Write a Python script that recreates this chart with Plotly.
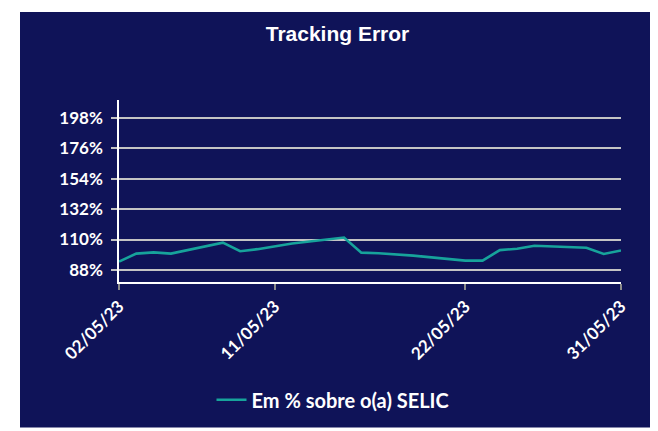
import plotly.graph_objects as go

dates = ["2023-05-02", "2023-05-03", "2023-05-04", "2023-05-05", "2023-05-08",
         "2023-05-09", "2023-05-10", "2023-05-11", "2023-05-12", "2023-05-15",
         "2023-05-16", "2023-05-17", "2023-05-18", "2023-05-19", "2023-05-22",
         "2023-05-23", "2023-05-24", "2023-05-25", "2023-05-26", "2023-05-29",
         "2023-05-30", "2023-05-31"]
values = [94.0, 99.8, 100.7, 99.8, 107.7,
          101.5, 103.0, 105.3, 107.1, 111.4,
          100.5, 100.0, 99.2, 98.3, 94.7,
          94.7, 102.3, 103.3, 105.5, 104.0,
          99.5, 102.1]
series_name = "Em % sobre o(a) SELIC"
x_tick_vals = ["2023-05-02", "2023-05-11", "2023-05-22", "2023-05-31"]
x_tick_text = ["02/05/23", "11/05/23", "22/05/23", "31/05/23"]
y_tick_vals = [88, 110, 132, 154, 176, 198]
y_tick_text = ["88%", "110%", "132%", "154%", "176%", "198%"]

NAVY = "#0f1358"
TEAL = "#17a39b"
OFF = 8  # page body margin
W, H = 658 - OFF, 431 - OFF
L, T = 119 - OFF, 100 - OFF
R = W - (621 - OFF)
B = H - (284 - OFF)
pw, ph = W - L - R, H - T - B

def px_x(p):
    return (p - OFF - L) / pw

def px_y(p):
    return (H - B - (p - OFF)) / ph

fig = go.Figure()
fig.add_trace(go.Scatter(
    x=dates, y=values, mode="lines", name=series_name,
    line=dict(color=TEAL, width=2.6),
))

tickfont = dict(family="Lato", size=17, color="white", weight="bold")

fig.update_layout(
    width=W, height=H,
    margin=dict(l=L, r=R, t=T, b=B),
    paper_bgcolor="white",
    plot_bgcolor=NAVY,
    title=dict(text="Tracking Error", x=(337.5 - OFF) / W, xref="container", xanchor="center",
               y=1 - (34 - OFF) / H, yref="container", yanchor="middle",
               font=dict(family="Liberation Sans", size=21, color="white", weight="bold")),
    showlegend=True,
    legend=dict(orientation="h", x=px_x(333), xanchor="center", y=px_y(403), yanchor="middle",
                font=dict(family="Lato", size=20, color="white", weight="bold"),
                bgcolor="rgba(0,0,0,0)"),
    shapes=[dict(type="rect", xref="paper", yref="paper",
                 x0=px_x(20), x1=px_x(655), y0=px_y(431), y1=px_y(11),
                 fillcolor=NAVY, line=dict(width=0), layer="below")],
    xaxis=dict(type="date", range=["2023-05-02", "2023-05-31"],
               tickvals=x_tick_vals, ticktext=x_tick_text, tickangle=-45,
               showgrid=False, showline=True, linecolor="white", linewidth=1.5,
               ticks="outside", ticklen=6, tickcolor="#8a8a8a", tickwidth=1.5,
               tickfont=tickfont, zeroline=False),
    yaxis=dict(range=[79.2, 211.1], tickvals=y_tick_vals, ticktext=y_tick_text,
               showgrid=True, gridcolor="#c4c4c4", gridwidth=1.5,
               showline=True, linecolor="white", linewidth=1.5,
               ticks="outside", ticklen=6, tickcolor="#c4c4c4", tickwidth=1.5,
               ticklabelstandoff=5,
               tickfont=tickfont, zeroline=False),
)

fig.write_html("out.html")
